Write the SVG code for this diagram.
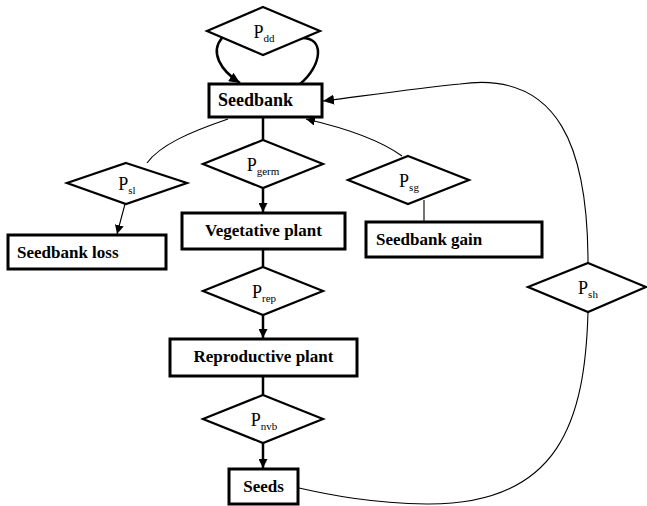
<svg xmlns="http://www.w3.org/2000/svg" width="647" height="506" viewBox="0 0 647 506">
<style>
.box{fill:#fff;stroke:#000;stroke-width:3}
.dia{fill:#fff;stroke:#000;stroke-width:2.2}
.bt{font-family:"Liberation Serif","Times New Roman",serif;font-weight:bold;font-size:17px;fill:#000}
.pl{font-family:"Liberation Serif","Times New Roman",serif;font-size:18px;fill:#000}
.sub{font-size:11px}
.thick{fill:none;stroke:#000;stroke-width:2.5}
.thin{fill:none;stroke:#000;stroke-width:1.1}
</style>
<defs>
<marker id="ah" markerUnits="userSpaceOnUse" markerWidth="12" markerHeight="10" refX="11" refY="5" orient="auto">
<path d="M0,0 L11,5 L0,10 z" fill="#000"/>
</marker>
<marker id="ahs" markerUnits="userSpaceOnUse" markerWidth="10" markerHeight="9" refX="9" refY="4.5" orient="auto">
<path d="M0,0 L9,4.5 L0,9 z" fill="#000"/>
</marker>
</defs>
<g id="connectors">
<path class="thick" d="M222,38 C210,52 220,70 240,83" marker-end="url(#ah)"/>
<path class="thick" d="M300,38 C326,36 322,66 300,84"/>
<line class="thick" x1="263" y1="117" x2="263" y2="140"/>
<line class="thick" x1="263" y1="188" x2="263" y2="212" marker-end="url(#ahs)"/>
<line class="thick" x1="263" y1="249" x2="263" y2="267"/>
<line class="thick" x1="263" y1="315" x2="263" y2="338" marker-end="url(#ahs)"/>
<line class="thick" x1="263" y1="376" x2="263" y2="395"/>
<line class="thick" x1="263" y1="443" x2="263" y2="468" marker-end="url(#ahs)"/>
<path class="thin" d="M228,119 C190,132 160,145 147,163"/>
<line class="thin" x1="125" y1="204" x2="117" y2="234" marker-end="url(#ahs)"/>
<path class="thin" d="M402,156 C380,140 345,128 306,119" marker-end="url(#ahs)"/>
<line class="thin" x1="424" y1="200" x2="424" y2="222"/>
<path class="thin" d="M588,263 C588,150 560,70 460,84 C420,88 370,95 323,101" marker-end="url(#ah)"/>
<path class="thin" d="M588,312 C585,420 560,505 427,504 C370,503 330,495 299,488"/>
</g>
<g id="Pdd">
<polygon class="dia" points="263,7 320,31 263,55 207,31"/>
<text class="pl" x="264" y="38" text-anchor="middle">P<tspan class="sub" dy="4">dd</tspan></text>
</g>
<g id="Seedbank">
<rect class="box" x="209" y="84" width="113" height="33"/>
<text class="bt" x="218" y="106" style="font-size:18px">Seedbank</text>
</g>
<g id="Pgerm">
<polygon class="dia" points="263,140 323,164 263,188 203,164"/>
<text class="pl" x="263" y="171" text-anchor="middle">P<tspan class="sub" dy="4">germ</tspan></text>
</g>
<g id="Psl">
<polygon class="dia" points="126,163 187,183 126,204 67,183"/>
<text class="pl" x="127" y="190" text-anchor="middle">P<tspan class="sub" dy="4">sl</tspan></text>
</g>
<g id="Psg">
<polygon class="dia" points="408,156 469,180 408,204 348,180"/>
<text class="pl" x="409" y="187" text-anchor="middle">P<tspan class="sub" dy="4">sg</tspan></text>
</g>
<g id="SeedbankLoss">
<rect class="box" x="8" y="235" width="158" height="34"/>
<text class="bt" x="17" y="258">Seedbank loss</text>
</g>
<g id="VegetativePlant">
<rect class="box" x="182" y="213" width="163" height="36"/>
<text class="bt" x="263.5" y="236" text-anchor="middle">Vegetative plant</text>
</g>
<g id="SeedbankGain">
<rect class="box" x="366" y="222" width="176" height="35"/>
<text class="bt" x="376" y="245">Seedbank gain</text>
</g>
<g id="Prep">
<polygon class="dia" points="263,267 323,291 263,315 203,291"/>
<text class="pl" x="264" y="298" text-anchor="middle">P<tspan class="sub" dy="4">rep</tspan></text>
</g>
<g id="ReproductivePlant">
<rect class="box" x="170" y="339" width="187" height="37"/>
<text class="bt" x="263.5" y="362" text-anchor="middle">Reproductive plant</text>
</g>
<g id="Pnvb">
<polygon class="dia" points="263,395 323,419 263,443 203,419"/>
<text class="pl" x="264" y="426" text-anchor="middle">P<tspan class="sub" dy="4">nvb</tspan></text>
</g>
<g id="Seeds">
<rect class="box" x="229" y="469" width="69" height="35"/>
<text class="bt" x="263.5" y="492" text-anchor="middle">Seeds</text>
</g>
<g id="Psh">
<polygon class="dia" points="588,263 646,287 588,312 528,287"/>
<text class="pl" x="588" y="294" text-anchor="middle">P<tspan class="sub" dy="4">sh</tspan></text>
</g>
</svg>
